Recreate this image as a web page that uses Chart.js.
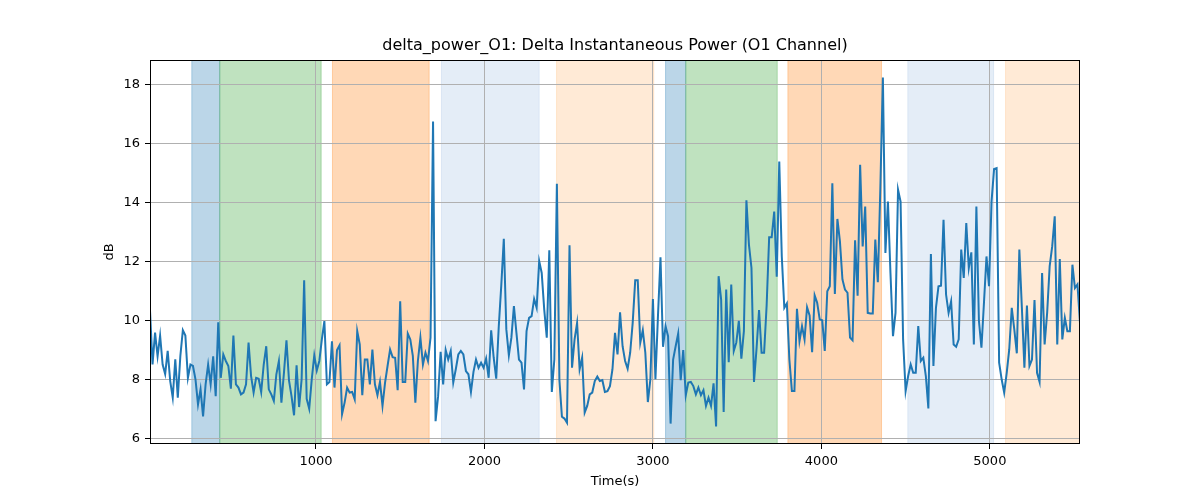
<!DOCTYPE html>
<html>
<head>
<meta charset="utf-8">
<title>delta_power_O1</title>
<script src="https://cdn.jsdelivr.net/npm/chart.js@4.4.1/dist/chart.umd.min.js"></script>
<style>
  html, body { margin: 0; padding: 0; background: #ffffff; }
  #wrap { width: 1200px; height: 500px; }
</style>
</head>
<body>
<div id="wrap"><canvas id="powerChart" width="1200" height="500"></canvas></div>
<script>
// Sample times (s)
const times = [
  15, 30, 45, 60, 75, 90, 105, 120, 135, 150,
  165, 180, 195, 210, 225, 240, 255, 270, 285, 300,
  315, 330, 345, 360, 375, 390, 405, 420, 435, 450,
  465, 480, 495, 510, 525, 540, 555, 570, 585, 600,
  615, 630, 645, 660, 675, 690, 705, 720, 735, 750,
  765, 780, 795, 810, 825, 840, 855, 870, 885, 900,
  915, 930, 945, 960, 975, 990, 1005, 1020, 1035, 1050,
  1065, 1080, 1095, 1110, 1125, 1140, 1155, 1170, 1185, 1200,
  1215, 1230, 1245, 1260, 1275, 1290, 1305, 1320, 1335, 1350,
  1365, 1380, 1395, 1410, 1425, 1440, 1455, 1470, 1485, 1500,
  1515, 1530, 1545, 1560, 1575, 1590, 1605, 1620, 1635, 1650,
  1665, 1680, 1695, 1710, 1725, 1740, 1755, 1770, 1785, 1800,
  1815, 1830, 1845, 1860, 1875, 1890, 1905, 1920, 1935, 1950,
  1965, 1980, 1995, 2010, 2025, 2040, 2055, 2070, 2085, 2100,
  2115, 2130, 2145, 2160, 2175, 2190, 2205, 2220, 2235, 2250,
  2265, 2280, 2295, 2310, 2325, 2340, 2355, 2370, 2385, 2400,
  2415, 2430, 2445, 2460, 2475, 2490, 2505, 2520, 2535, 2550,
  2565, 2580, 2595, 2610, 2625, 2640, 2655, 2670, 2685, 2700,
  2715, 2730, 2745, 2760, 2775, 2790, 2805, 2820, 2835, 2850,
  2865, 2880, 2895, 2910, 2925, 2940, 2955, 2970, 2985, 3000,
  3015, 3030, 3045, 3060, 3075, 3090, 3105, 3120, 3135, 3150,
  3165, 3180, 3195, 3210, 3225, 3240, 3255, 3270, 3285, 3300,
  3315, 3330, 3345, 3360, 3375, 3390, 3405, 3420, 3435, 3450,
  3465, 3480, 3495, 3510, 3525, 3540, 3555, 3570, 3585, 3600,
  3615, 3630, 3645, 3660, 3675, 3690, 3705, 3720, 3735, 3750,
  3765, 3780, 3795, 3810, 3825, 3840, 3855, 3870, 3885, 3900,
  3915, 3930, 3945, 3960, 3975, 3990, 4005, 4020, 4035, 4050,
  4065, 4080, 4095, 4110, 4125, 4140, 4155, 4170, 4185, 4200,
  4215, 4230, 4245, 4260, 4275, 4290, 4305, 4320, 4335, 4350,
  4365, 4380, 4395, 4410, 4425, 4440, 4455, 4470, 4485, 4500,
  4515, 4530, 4545, 4560, 4575, 4590, 4605, 4620, 4635, 4650,
  4665, 4680, 4695, 4710, 4725, 4740, 4755, 4770, 4785, 4800,
  4815, 4830, 4845, 4860, 4875, 4890, 4905, 4920, 4935, 4950,
  4965, 4980, 4995, 5010, 5025, 5040, 5055, 5070, 5085, 5100,
  5115, 5130, 5145, 5160, 5175, 5190, 5205, 5220, 5235, 5250,
  5265, 5280, 5295, 5310, 5325, 5340, 5355, 5370, 5385, 5400,
  5415, 5430, 5445, 5460, 5475, 5490, 5505, 5520, 5535
];

// Delta power, O1 channel (dB)
const powerDb = [
  10.35, 8.52, 9.6, 8.8, 9.5, 8.52, 8.2, 8.98, 7.96, 7.4,
  8.7, 7.4, 8.8, 9.68, 9.5, 8.07, 8.52, 8.47, 8.02, 7.17,
  7.68, 6.76, 7.85, 8.52, 7.85, 8.8, 7.45, 9.95, 8.07, 8.86,
  8.64, 8.47, 7.7, 9.5, 7.85, 7.74, 7.51, 7.57, 7.85, 9.26,
  8.13, 7.57, 8.07, 8.04, 7.59, 8.52, 9.14, 7.68, 7.51, 7.29,
  8.19, 8.64, 7.23, 8.24, 9.34, 7.98, 7.45, 6.8, 8.49, 7.08,
  8.02, 11.37, 7.36, 7.02, 8.02, 8.83, 8.32, 8.64, 9.37, 9.99,
  7.85, 7.93, 9.31, 7.74, 9.01, 9.17, 6.84, 7.23, 7.74, 7.57,
  7.59, 7.34, 9.65, 9.2, 7.48, 8.69, 8.69, 7.85, 9.03, 7.85,
  7.48, 7.93, 7.12, 7.9, 8.47, 9.03, 8.77, 8.75, 7.65, 10.66,
  7.93, 7.93, 9.57, 9.37, 8.81, 7.23, 8.64, 9.43, 8.52, 8.92,
  8.64, 9.43, 16.75, 6.6, 7.45, 8.95, 7.85, 9.01, 8.69, 8.98,
  7.91, 8.36, 8.86, 8.98, 8.86, 8.3, 8.19, 7.59, 8.27, 8.69,
  8.41, 8.58, 8.41, 8.72, 8.07, 9.68, 8.75, 8.04, 9.8, 11.2,
  12.78, 9.71, 8.83, 9.43, 10.5, 9.59, 8.69, 8.58, 7.68, 9.65,
  10.1, 10.16, 10.74, 10.44, 12.02, 11.62, 10.38, 9.43, 12.39, 7.59,
  8.69, 14.64, 8.0, 6.75, 6.69, 6.55, 12.56, 8.41, 9.37, 9.93,
  8.36, 8.75, 6.89, 7.12, 7.51, 7.57, 7.96, 8.11, 7.96, 7.99,
  7.59, 7.62, 7.79, 8.36, 9.59, 8.86, 10.29, 9.14, 8.64, 8.38,
  8.92, 9.93, 11.37, 11.37, 9.26, 9.68, 8.92, 7.25, 8.02, 10.74,
  8.02, 10.16, 12.15, 9.12, 9.82, 9.48, 6.52, 8.69, 9.14, 9.57,
  7.99, 9.01, 7.48, 7.91, 7.93, 7.79, 7.51, 7.74, 7.48, 7.65,
  7.12, 7.4, 7.12, 7.88, 6.42, 11.51, 10.72, 6.91, 11.06, 8.6,
  11.23, 8.98, 9.26, 10.0, 8.72, 9.65, 14.08, 12.58, 11.79, 7.93,
  9.05, 10.36, 8.92, 8.92, 10.52, 12.83, 12.83, 13.7, 11.49, 15.39,
  12.18, 10.44, 10.59, 8.69, 7.62, 7.62, 10.41, 9.31, 9.82, 9.37,
  10.46, 10.18, 8.94, 10.86, 10.61, 10.05, 10.02, 8.98, 11.0, 11.17,
  14.66, 10.91, 13.45, 12.69, 11.4, 11.06, 10.95, 9.43, 9.34, 12.73,
  10.85, 15.28, 12.52, 13.87, 10.27, 10.25, 10.25, 12.75, 11.31, 14.5,
  18.24, 12.3, 14.04, 11.62, 9.48, 10.27, 14.44, 14.04, 9.37, 7.62,
  8.13, 8.52, 8.24, 8.24, 9.82, 8.64, 8.75, 8.13, 7.03, 12.26,
  8.47, 10.44, 11.17, 11.19, 13.42, 10.89, 10.27, 10.66, 9.2, 9.12,
  9.37, 12.41, 11.45, 13.31, 11.79, 12.32, 9.2, 13.87, 10.0, 9.09,
  10.61, 12.18, 11.17, 14.04, 15.14, 15.17, 8.58, 8.02, 7.57, 8.24,
  9.03, 10.44, 9.71, 8.9, 12.41, 10.44, 8.41, 10.52, 8.47, 8.69,
  10.7, 8.24, 7.93, 11.62, 9.2, 10.27, 11.85, 12.52, 13.54, 9.2,
  12.09, 9.37, 10.1, 9.65, 9.65, 11.9, 11.11, 11.23, 9.93
];

const xTicks = [1000, 2000, 3000, 4000, 5000];
const yTicks = [6, 8, 10, 12, 14, 16, 18];

// Shaded stage intervals (s)
const spanStart = [263, 429, 1098, 1745, 2428, 3075, 3195, 3801, 4513, 5093];
const spanEnd   = [429, 1031, 1672, 2325, 3005, 3195, 3738, 4357, 5022, 5600];
const spanKind  = ['blue', 'green', 'orange', 'lightblue', 'lightorange',
                   'blue', 'green', 'orange', 'lightblue', 'lightorange'];

const spanColors = {
  blue: 'rgba(31, 119, 180, 0.3)',
  green: 'rgba(44, 160, 44, 0.3)',
  orange: 'rgba(255, 127, 14, 0.3)',
  lightblue: 'rgba(174, 199, 232, 0.33)',
  lightorange: 'rgba(255, 187, 120, 0.3)'
};

const fontFamily = "'DejaVu Sans', sans-serif";
Chart.defaults.font.family = fontFamily;
Chart.defaults.color = '#000000';

// matplotlib-like 5% margin on y
const lo = Math.min(...powerDb);
const hi = Math.max(...powerDb);
const margin = (hi - lo) * 0.05;

// spans are drawn below the grid, like axvspan
const spanPlugin = {
  id: 'spans',
  beforeDraw(chart) {
    const {ctx, chartArea, scales} = chart;
    ctx.save();
    ctx.beginPath();
    ctx.rect(chartArea.left, chartArea.top, chartArea.right - chartArea.left, chartArea.bottom - chartArea.top);
    ctx.clip();
    for (let i = 0; i < spanStart.length; i++) {
      const x0 = scales.x.getPixelForValue(spanStart[i]);
      const x1 = scales.x.getPixelForValue(spanEnd[i]);
      ctx.fillStyle = spanColors[spanKind[i]];
      ctx.strokeStyle = spanColors[spanKind[i]];
      ctx.lineWidth = 1;
      ctx.fillRect(x0, chartArea.top, x1 - x0, chartArea.bottom - chartArea.top);
      ctx.strokeRect(x0, chartArea.top - 2, x1 - x0, chartArea.bottom - chartArea.top + 4);
    }
    ctx.restore();
  }
};

// black box around the plot
const framePlugin = {
  id: 'frame',
  afterDatasetsDraw(chart) {
    const {ctx, chartArea} = chart;
    ctx.save();
    ctx.strokeStyle = '#000000';
    ctx.lineWidth = 1;
    ctx.strokeRect(Math.round(chartArea.left) + 0.5, Math.round(chartArea.top) + 0.5,
      Math.round(chartArea.right - chartArea.left) - 1, Math.round(chartArea.bottom - chartArea.top) - 1);
    ctx.restore();
  }
};

const powerCtx = document.getElementById('powerChart').getContext('2d');
const powerChart = new Chart(powerCtx, {
  type: 'line',
  data: {
    datasets: [{
      label: 'delta_power_O1',
      data: times.map((t, i) => ({x: t, y: powerDb[i]})),
      borderColor: '#1f77b4',
      borderWidth: 2,
      pointRadius: 0,
      tension: 0,
      fill: false
    }]
  },
  options: {
    responsive: false,
    animation: false,
    events: [],
    layout: {padding: {left: 0, right: 120, top: 0, bottom: 0}},
    plugins: {
      legend: {display: false},
      tooltip: {enabled: false},
      title: {
        display: true,
        fullSize: false, // center over the plot area, not the canvas
        text: 'delta_power_O1: Delta Instantaneous Power (O1 Channel)',
        color: '#000000',
        font: {size: 16, weight: 'normal'},
        padding: {top: 36, bottom: 4.8}
      }
    },
    scales: {
      x: {
        type: 'linear',
        min: times[0],
        max: times[times.length - 1],
        afterBuildTicks: (scale) => { scale.ticks = xTicks.map(v => ({value: v})); },
        afterFit: (scale) => { scale.height = 56; },
        ticks: {
          callback: (v) => String(v),
          font: {size: 13},
          padding: 5,
          maxRotation: 0,
          autoSkip: false
        },
        grid: {color: '#b0b0b0', lineWidth: 1, tickColor: '#000000', tickLength: 5, tickWidth: 1},
        border: {display: false},
        title: {display: true, text: 'Time(s)', font: {size: 13}, padding: {top: 0, bottom: 11}}
      },
      y: {
        type: 'linear',
        min: lo - margin,
        max: hi + margin,
        afterBuildTicks: (scale) => { scale.ticks = yTicks.map(v => ({value: v})); },
        afterFit: (scale) => { scale.width = 150; },
        ticks: {
          callback: (v) => String(v),
          font: {size: 13},
          padding: 5,
          autoSkip: false
        },
        grid: {color: '#b0b0b0', lineWidth: 1, tickColor: '#000000', tickLength: 5, tickWidth: 1},
        border: {display: false},
        title: {display: true, text: 'dB', font: {size: 13}, padding: {top: 102, bottom: 0}}
      }
    }
  },
  plugins: [spanPlugin, framePlugin]
});
</script>
</body>
</html>
